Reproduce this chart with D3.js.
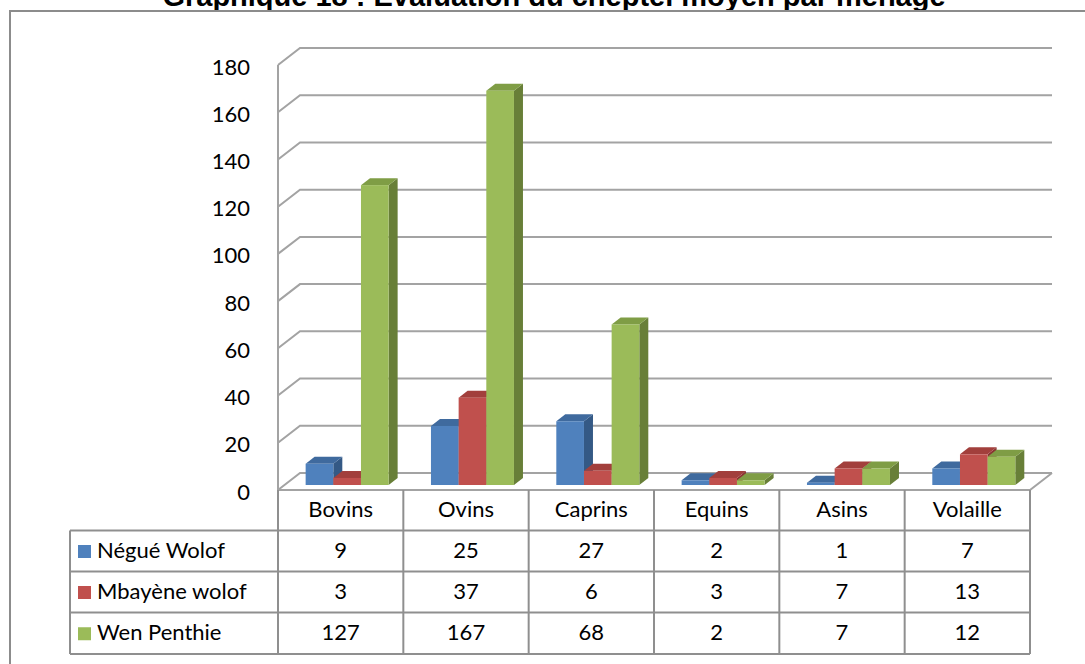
<!DOCTYPE html>
<meta charset="utf-8">
<style>
body{margin:0;background:#fff}
svg{display:block;font-family:Lato,"Open Sans",sans-serif}
</style>
<svg width="1085" height="664"></svg>
<script src="https://cdn.jsdelivr.net/npm/d3@7"></script>
<script>
var categories = ["Bovins", "Ovins", "Caprins", "Equins", "Asins", "Volaille"];
var seriesNames = ["Négué Wolof", "Mbayène wolof", "Wen Penthie"];
var negueWolof = [9, 25, 27, 2, 1, 7];
var mbayeneWolof = [3, 37, 6, 3, 7, 13];
var wenPenthie = [127, 167, 68, 2, 7, 12];
var yTicks = [0, 20, 40, 60, 80, 100, 120, 140, 160, 180];

var series = [negueWolof, mbayeneWolof, wenPenthie];
var front = ["#4f81bd", "#c0504d", "#9bbb59"],
    top_ = ["#3f6a9e", "#a23f3c", "#7f9d45"],
    side = ["#345985", "#8a3533", "#687f38"];

var svg = d3.select("svg");
var x0 = 278, x1 = 1030, floorY = 490;
var dx = 22, dy = -17; // depth of walls
var h = d3.scaleLinear().domain([0, 180]).range([0, 425]);
var x = d3.scaleBand().domain(categories).range([x0, x1]);
var xs = d3.scaleBand().domain([0, 1, 2]).range([0, 83]);

// title (cut at top like the original)
svg.append("text").attr("x", 554).attr("y", 6).attr("text-anchor", "middle")
  .style("font-family", "'Liberation Sans',Arial,sans-serif").style("font-weight", "bold")
  .style("font-size", "29px").attr("fill", "#000")
  .text("Graphique 18 : Evaluation du cheptel moyen par ménage");

// frame
svg.append("path").attr("d", "M10,664V11H1085").attr("fill", "none").attr("stroke", "#8c8c8c").attr("stroke-width", 2);

var grid = svg.append("g").attr("fill", "none").attr("stroke", "#a3a3a3").attr("stroke-width", 2);
yTicks.forEach(function(v) {
  var yf = floorY - h(v);
  grid.append("path").attr("d", "M" + x0 + "," + yf + "L" + (x0 + dx) + "," + (yf + dy) + "H" + (x1 + dx));
});
grid.append("line").attr("x1", x0).attr("x2", x0).attr("y1", floorY - h(180)).attr("y2", floorY);
grid.append("path").attr("d", "M" + x0 + "," + floorY + "H" + x1 + "L" + (x1 + dx) + "," + (floorY + dy));

svg.append("g").selectAll("text").data(yTicks).join("text")
  .attr("x", 250).attr("y", function(d) { return floorY - h(d) + 4; })
  .attr("text-anchor", "end").attr("dominant-baseline", "middle")
  .style("font-size", "22px").text(function(d) { return d; });

// bars: front plane sits part way into the floor depth
var t = 5 / 17, bdx = 9, bdy = -7;
var bars = svg.append("g");
categories.forEach(function(c, i) {
  series.forEach(function(s, k) {
    var bx = x(c) + t * dx + (x.bandwidth() - 83) / 2 + xs(k),
        by = floorY + t * dy,
        w = xs.bandwidth(), bh = h(s[i]), yt = by - bh;
    bars.append("path").attr("fill", side[k])
      .attr("d", "M" + (bx + w) + "," + by + "V" + yt + "l" + bdx + "," + bdy + "V" + (by + bdy) + "Z");
    bars.append("path").attr("fill", top_[k])
      .attr("d", "M" + bx + "," + yt + "h" + w + "l" + bdx + "," + bdy + "h" + (-w) + "Z");
    bars.append("rect").attr("fill", front[k]).attr("x", bx).attr("y", yt).attr("width", w).attr("height", bh);
  });
});

// data table
var rowY = [490, 530.5, 571.5, 612.5, 654];
var tbl = svg.append("g").attr("stroke", "#8f8f8f").attr("stroke-width", 2).attr("fill", "none");
x.domain().forEach(function(c) {
  tbl.append("line").attr("x1", x(c)).attr("x2", x(c)).attr("y1", rowY[0]).attr("y2", rowY[4]);
});
tbl.append("line").attr("x1", x1).attr("x2", x1).attr("y1", rowY[0]).attr("y2", rowY[4]);
tbl.append("line").attr("x1", 70).attr("x2", 70).attr("y1", rowY[1]).attr("y2", rowY[4]);
[1, 2, 3, 4].forEach(function(r) {
  tbl.append("line").attr("x1", 70).attr("x2", x1).attr("y1", rowY[r]).attr("y2", rowY[r]);
});

svg.append("g").selectAll("text").data(categories).join("text")
  .attr("x", function(d) { return x(d) + x.bandwidth() / 2; })
  .attr("y", (rowY[0] + rowY[1]) / 2 + 1).attr("text-anchor", "middle").attr("dominant-baseline", "middle")
  .style("font-size", "22px").text(function(d) { return d; });

series.forEach(function(s, k) {
  var cy = (rowY[k + 1] + rowY[k + 2]) / 2 + 1;
  svg.append("rect").attr("x", 78).attr("y", cy - 7).attr("width", 13).attr("height", 13).attr("fill", front[k]);
  svg.append("text").attr("x", 97).attr("y", cy).attr("dominant-baseline", "middle")
    .style("font-size", "22px").text(seriesNames[k]);
  svg.append("g").selectAll("text").data(s).join("text")
    .attr("x", function(d, i) { return x(categories[i]) + x.bandwidth() / 2; })
    .attr("y", cy).attr("text-anchor", "middle").attr("dominant-baseline", "middle")
    .style("font-size", "22px").text(function(d) { return d; });
});
</script>
